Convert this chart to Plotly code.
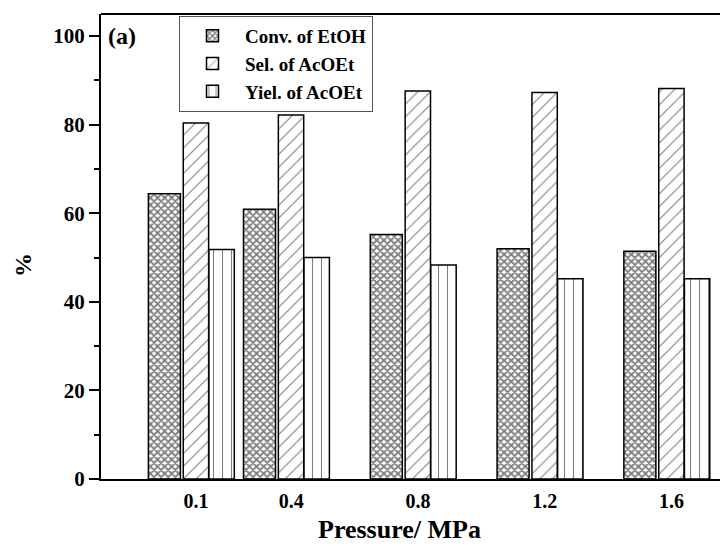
import plotly.graph_objects as go

pressure = [0.1, 0.4, 0.8, 1.2, 1.6]
tick_labels = ["0.1", "0.4", "0.8", "1.2", "1.6"]
conv_etoh = [64.4, 60.9, 55.2, 52.0, 51.4]
sel_acoet = [80.4, 82.2, 87.6, 87.3, 88.2]
yiel_acoet = [51.8, 50.0, 48.3, 45.2, 45.2]

FONT = "Liberation Serif"

# The page body has an 8px margin; plot area in screen pixels: x 101..728, y 14..479
PL, PR, PT, PB = 101, 728, 14, 479
def px(sx):
    return (sx - PL) / (PR - PL)
def py(sy):
    return (PB - sy) / (PB - PT)

fig = go.Figure()
fig.add_trace(go.Bar(
    x=pressure, y=conv_etoh, name="Conv. of EtOH",
    offset=-0.1505, width=0.101,
    marker=dict(color="white", line=dict(color="black", width=1.5),
                pattern=dict(shape="x", fgcolor="black", bgcolor="white", size=5, solidity=0.6)),
))
fig.add_trace(go.Bar(
    x=pressure, y=sel_acoet, name="Sel. of AcOEt",
    offset=-0.0405, width=0.080,
    marker=dict(color="white", line=dict(color="black", width=1.5),
                pattern=dict(shape="/", fgcolor="black", bgcolor="white", size=9, solidity=0.12)),
))
fig.add_trace(go.Bar(
    x=pressure, y=yiel_acoet, name="Yiel. of AcOEt",
    offset=0.0405, width=0.080,
    marker=dict(color="white", line=dict(color="black", width=1.5),
                pattern=dict(shape="|", fgcolor="black", bgcolor="white", size=9, solidity=0.12)),
))

fig.update_layout(
    width=720, height=536,
    margin=dict(l=PL - 8, r=0, t=PT - 8, b=552 - 8 - (PB - 8) - 8),
    plot_bgcolor="white", paper_bgcolor="white",
    barmode="overlay",
    font=dict(family=FONT, color="black"),
    showlegend=True,
    legend=dict(
        x=px(179), y=py(16), xanchor="left", yanchor="top",
        bordercolor="#555", borderwidth=1, bgcolor="white",
        font=dict(family=FONT, size=19, weight="bold", color="black"),
        itemwidth=55, tracegroupgap=0,
    ),
    xaxis=dict(
        range=[-0.2, 1.778], tickvals=pressure, ticktext=tick_labels,
        ticks="", showline=True, linecolor="black", linewidth=2,
        showgrid=False, zeroline=False,
        tickfont=dict(family=FONT, size=20, weight="bold", color="black"),
        ticklabelstandoff=3,
    ),
    yaxis=dict(
        range=[0, 105], tickvals=[0, 20, 40, 60, 80, 100],
        ticks="outside", ticklen=10, tickwidth=2, tickcolor="black",
        showline=True, linecolor="black", linewidth=2,
        showgrid=False, zeroline=False,
        tickfont=dict(family=FONT, size=21, weight="bold", color="black"),
        minor=dict(tickvals=[10, 30, 50, 70, 90], ticks="outside", ticklen=5,
                   tickwidth=2, tickcolor="black", showgrid=False),
    ),
    shapes=[dict(type="line", xref="paper", yref="paper", x0=0, x1=1, y0=1, y1=1,
                 line=dict(color="black", width=2))],
    annotations=[
        dict(text="(a)", xref="paper", yref="paper", x=px(122), y=py(36),
             xanchor="center", yanchor="middle", showarrow=False,
             font=dict(family=FONT, size=24, weight="bold", color="black")),
        dict(text="Pressure/ MPa", xref="paper", yref="paper",
             x=px(399), y=py(529), xanchor="center", yanchor="middle",
             showarrow=False,
             font=dict(family=FONT, size=26, weight="bold", color="black")),
        dict(text="%", xref="paper", yref="paper",
             x=px(23), y=py(265), xanchor="center", yanchor="middle",
             textangle=-90, showarrow=False,
             font=dict(family=FONT, size=24, weight="bold", color="black")),
    ],
)

fig.write_html("out.html")
